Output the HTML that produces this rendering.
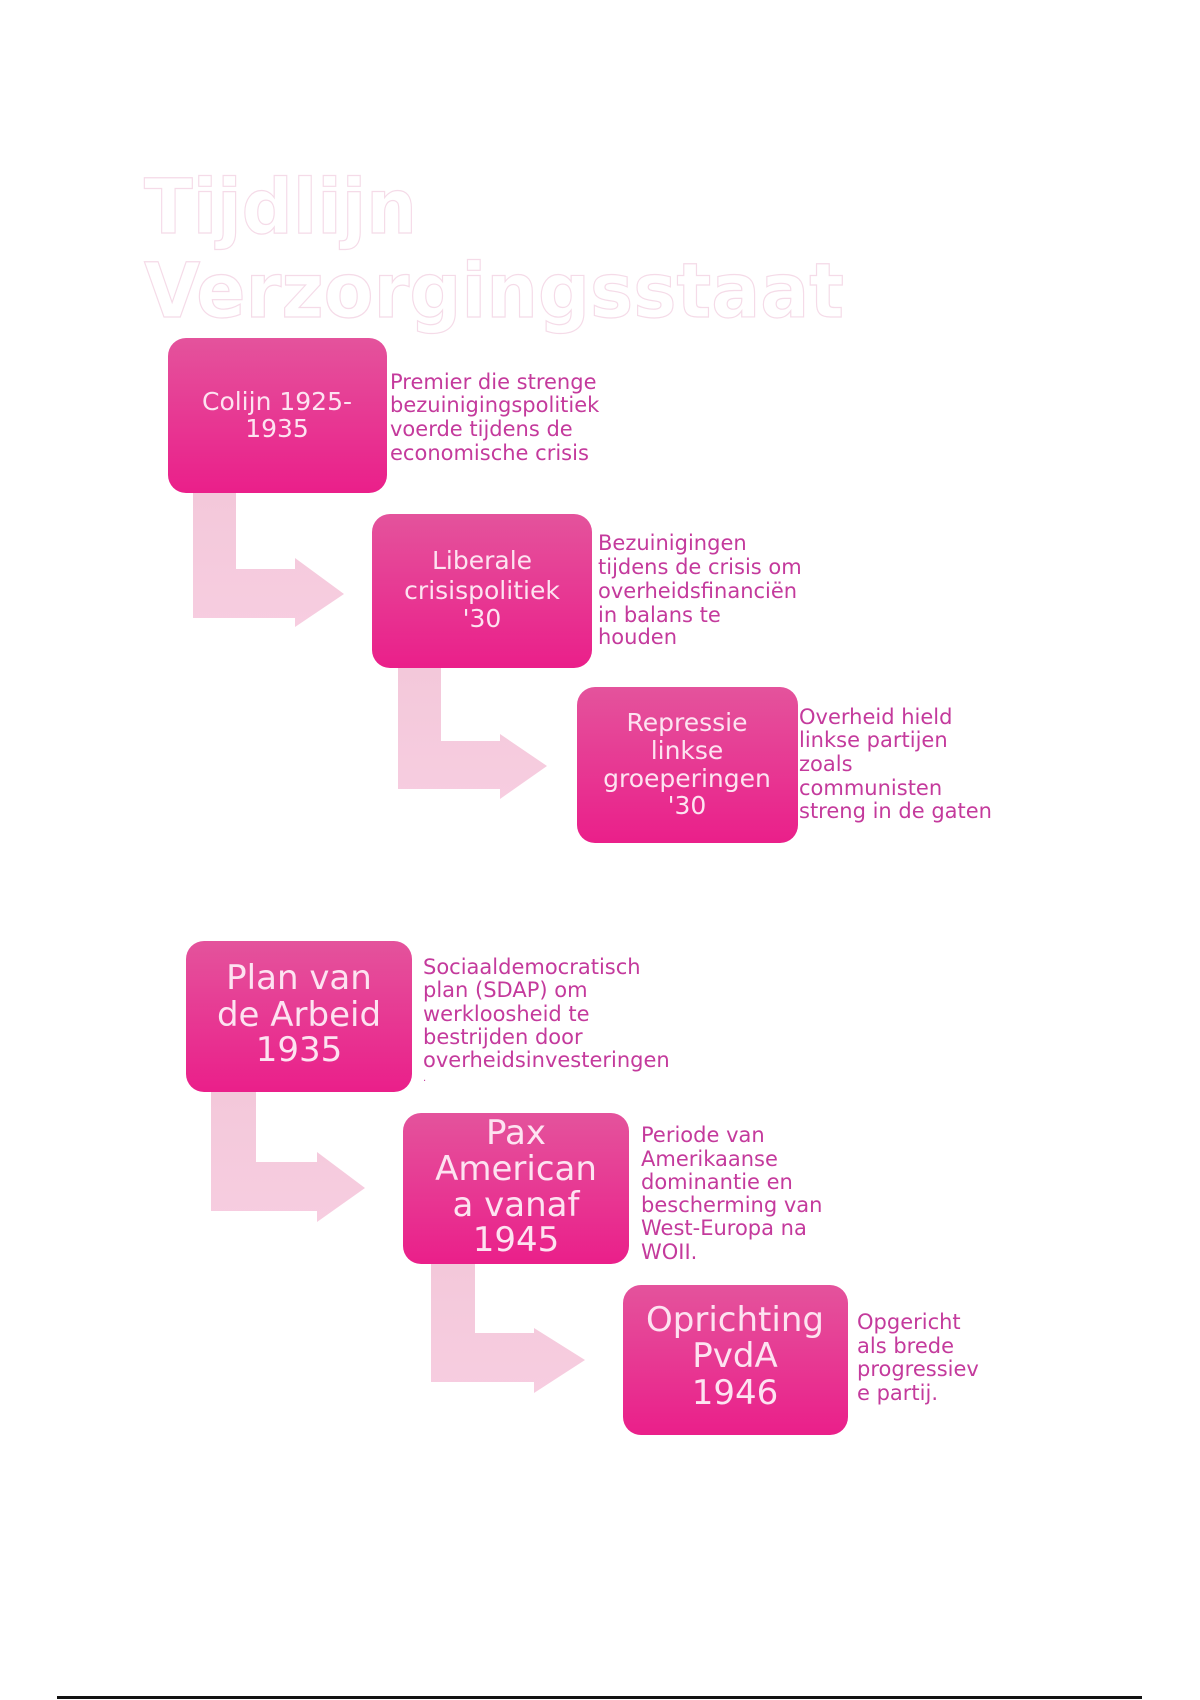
<!DOCTYPE html>
<html><head><meta charset="utf-8"><style>
html,body{margin:0;padding:0;background:#fff;width:1200px;height:1700px;overflow:hidden}
svg{display:block}
text{font-family:"DejaVu Sans","Liberation Sans",sans-serif}
.bt{fill:#fde3f1;text-anchor:middle;dominant-baseline:central}
.d{fill:#c43a9c;font-size:21px;dominant-baseline:central}
</style></head><body>
<svg width="1200" height="1700" viewBox="0 0 1200 1700" xmlns="http://www.w3.org/2000/svg">
<defs>
<linearGradient id="g" x1="0" y1="0" x2="0" y2="1"><stop offset="0" stop-color="#e4539c"/><stop offset="1" stop-color="#ea1f8a"/></linearGradient>
<linearGradient id="a" x1="0" y1="0" x2="0" y2="1"><stop offset="0" stop-color="#f3c8da"/><stop offset="1" stop-color="#f7cde0"/></linearGradient>
</defs>
<text x="144" y="233" font-size="76" font-weight="bold" fill="#fff" stroke="#f5dbe8" stroke-width="1.2" textLength="273" lengthAdjust="spacingAndGlyphs">Tijdlijn</text>
<text x="144" y="317" font-size="76" font-weight="bold" fill="#fff" stroke="#f5dbe8" stroke-width="1.2" textLength="700" lengthAdjust="spacingAndGlyphs">Verzorgingsstaat</text>

<path d="M193 493H236V569H295V558L344 594L295 627V618H193Z" fill="url(#a)"/>
<path d="M398 668H441V741H500V734L547 766L500 799V789H398Z" fill="url(#a)"/>
<path d="M211 1092H256V1162H317V1152L365 1188L317 1222V1211H211Z" fill="url(#a)"/>
<path d="M431 1264H475V1333H534V1328L585 1360L534 1393V1382H431Z" fill="url(#a)"/>

<rect x="168" y="338" width="219" height="155" rx="18" fill="url(#g)"/>
<text class="bt" font-size="25"><tspan x="277" y="401">Colijn 1925-</tspan><tspan x="277" y="428">1935</tspan></text>
<rect x="372" y="514" width="220" height="154" rx="18" fill="url(#g)"/>
<text class="bt" font-size="25"><tspan x="482" y="560">Liberale</tspan><tspan x="482" y="590">crisispolitiek</tspan><tspan x="482" y="618">'30</tspan></text>
<rect x="577" y="687" width="221" height="156" rx="18" fill="url(#g)"/>
<text class="bt" font-size="25"><tspan x="687" y="722">Repressie</tspan><tspan x="687" y="750">linkse</tspan><tspan x="687" y="778">groeperingen</tspan><tspan x="687" y="805">'30</tspan></text>

<rect x="186" y="941" width="226" height="151" rx="18" fill="url(#g)"/>
<text class="bt" font-size="34"><tspan x="299" y="978">Plan van</tspan><tspan x="299" y="1015">de Arbeid</tspan><tspan x="299" y="1050">1935</tspan></text>
<rect x="403" y="1113" width="226" height="151" rx="18" fill="url(#g)"/>
<text class="bt" font-size="34"><tspan x="516" y="1133">Pax</tspan><tspan x="516" y="1169">American</tspan><tspan x="516" y="1205">a vanaf</tspan><tspan x="516" y="1240">1945</tspan></text>
<rect x="623" y="1285" width="225" height="150" rx="18" fill="url(#g)"/>
<text class="bt" font-size="34"><tspan x="735" y="1320">Oprichting</tspan><tspan x="735" y="1356">PvdA</tspan><tspan x="735" y="1393">1946</tspan></text>

<text class="d"><tspan x="390" y="382">Premier die strenge</tspan><tspan x="390" y="405">bezuinigingspolitiek</tspan><tspan x="390" y="429">voerde tijdens de</tspan><tspan x="390" y="453">economische crisis</tspan></text>
<text class="d"><tspan x="598" y="543">Bezuinigingen</tspan><tspan x="598" y="567">tijdens de crisis om</tspan><tspan x="598" y="591">overheidsfinanciën</tspan><tspan x="598" y="615">in balans te</tspan><tspan x="598" y="637">houden</tspan></text>
<text class="d"><tspan x="799" y="717">Overheid hield</tspan><tspan x="799" y="740">linkse partijen</tspan><tspan x="799" y="764">zoals</tspan><tspan x="799" y="788">communisten</tspan><tspan x="799" y="811">streng in de gaten</tspan></text>
<text class="d"><tspan x="423" y="967">Sociaaldemocratisch</tspan><tspan x="423" y="990">plan (SDAP) om</tspan><tspan x="423" y="1014">werkloosheid te</tspan><tspan x="423" y="1037">bestrijden door</tspan><tspan x="423" y="1060">overheidsinvesteringen</tspan><tspan x="423" y="1078" font-size="10">.</tspan></text>
<text class="d"><tspan x="641" y="1135">Periode van</tspan><tspan x="641" y="1159">Amerikaanse</tspan><tspan x="641" y="1182">dominantie en</tspan><tspan x="641" y="1205">bescherming van</tspan><tspan x="641" y="1228">West-Europa na</tspan><tspan x="641" y="1252">WOII.</tspan></text>
<text class="d"><tspan x="857" y="1322">Opgericht</tspan><tspan x="857" y="1346">als brede</tspan><tspan x="857" y="1369">progressiev</tspan><tspan x="857" y="1393">e partij.</tspan></text>

<rect x="57" y="1696" width="1085" height="3" fill="#111"/>
</svg>
</body></html>
